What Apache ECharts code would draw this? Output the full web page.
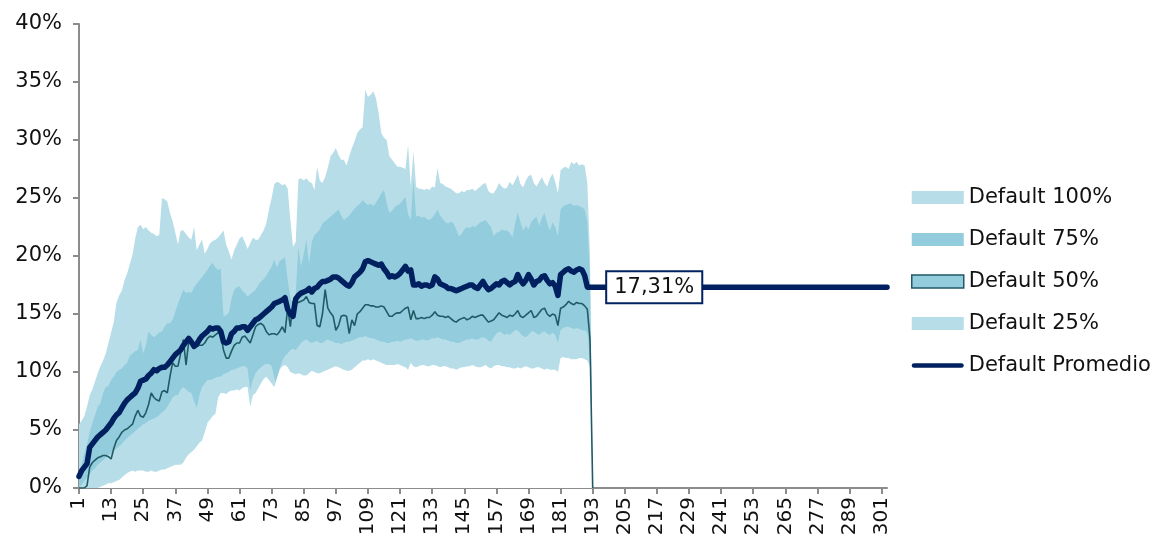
<!DOCTYPE html>
<html>
<head>
<meta charset="utf-8">
<script src="https://cdn.jsdelivr.net/npm/echarts@6/dist/echarts.min.js"></script>
<style>
  html, body { margin: 0; padding: 0; background: #fff; }
  #chart { width: 1153px; height: 544px; }
</style>
</head>
<body>
<div id="chart"></div>
<script>
// months 1..303 on the x axis, percentile bands (% values)
const categoryCount = 303;
const categories = Array.from({ length: categoryCount }, (_, i) => String(i + 1));

const default100 = [
  5.5, 5.8, 6.2, 7.0, 8.0, 8.5, 9.2, 9.9, 10.5, 11.0, 11.6, 12.5,
  13.4, 14.3, 16.0, 16.6, 17.0, 17.9, 18.5, 19.3, 20.1, 21.5, 22.5, 22.7,
  22.3, 22.5, 22.2, 22.0, 21.9, 21.7, 21.8, 25.0, 24.9, 24.7, 23.7, 23.0,
  22.0, 21.0, 22.2, 22.2, 21.9, 21.6, 21.4, 22.5, 20.5, 21.0, 21.4, 20.2,
  20.6, 21.1, 21.3, 21.4, 21.6, 21.9, 22.2, 21.0, 20.4, 19.7, 20.5, 21.0,
  21.5, 21.7, 21.2, 20.6, 21.1, 21.6, 21.4, 21.4, 21.8, 22.2, 22.8, 24.0,
  25.0, 26.2, 26.4, 26.3, 26.1, 26.2, 25.8, 23.1, 20.8, 21.2, 26.6, 26.7,
  26.5, 26.7, 26.4, 26.3, 25.7, 27.7, 26.5, 26.3, 26.8, 27.6, 28.6, 28.9,
  29.3, 28.7, 28.3, 28.3, 27.8, 28.6, 29.3, 29.9, 30.6, 30.9, 31.1, 34.3,
  33.7, 33.9, 34.2, 33.6, 32.3, 30.6, 30.2, 30.0, 28.6, 28.3, 28.0, 27.7,
  27.7, 27.6, 27.5, 29.6, 26.0, 29.0, 26.0, 25.8, 25.8, 25.7, 25.8, 25.7,
  26.0, 25.9, 27.6, 26.3, 26.2, 26.0, 25.9, 25.8, 25.6, 25.4, 25.4, 25.6,
  25.5, 25.7, 25.7, 25.8, 25.6, 25.8, 26.0, 26.2, 26.3, 25.6, 25.4, 25.4,
  25.8, 26.3, 26.0, 25.8, 25.9, 26.4, 26.1, 26.5, 27.0, 26.2, 25.9, 26.5,
  26.9, 27.0, 26.3, 26.0, 26.4, 26.8, 26.3, 26.0, 26.7, 27.1, 26.4, 25.4,
  27.4, 27.6, 27.7, 27.5, 28.1, 27.9, 28.1, 27.8, 27.9, 27.8, 26.3, 20.0
];

const default75 = [
  0.8, 2.0, 3.0, 3.8, 4.8, 5.6, 6.3, 7.0, 7.3, 8.2, 8.7, 8.8,
  9.3, 9.6, 10.0, 10.2, 10.3, 10.6, 10.8, 11.4, 11.6, 11.8, 11.9, 12.8,
  11.6, 12.3, 13.5, 13.2, 13.0, 13.2, 13.4, 13.5, 13.9, 14.2, 14.2, 14.5,
  15.2, 15.9, 16.5, 17.1, 16.8, 16.9, 16.8, 17.3, 17.6, 17.9, 18.2, 18.5,
  18.8, 19.2, 19.4, 19.0, 18.8, 18.9, 14.8, 14.9, 15.1, 16.3, 17.1, 17.3,
  17.4, 17.0, 16.8, 16.5, 16.7, 16.9, 17.1, 17.5, 17.8, 18.0, 18.3, 18.7,
  19.1, 19.7, 19.0, 19.6, 19.7, 19.9, 17.9, 16.5, 15.6, 16.8, 20.8, 19.1,
  20.2, 21.4, 19.3, 21.2, 21.8, 22.0, 22.3, 22.8, 23.0, 23.2, 23.4, 23.6,
  23.8, 24.0, 23.5, 23.1, 23.3, 23.5, 23.8, 24.1, 24.3, 24.5, 24.8, 24.6,
  24.4, 24.5, 24.3, 24.6, 25.0, 25.4, 25.7, 24.6, 23.7, 23.9, 24.2, 24.4,
  24.5, 24.8, 25.1, 23.6, 23.1, 26.6, 23.4, 23.5, 23.3, 23.4, 23.2, 23.1,
  23.3, 23.6, 24.0, 23.5, 23.2, 22.9, 22.8, 23.0, 22.8, 22.3, 21.7, 21.9,
  22.3, 22.5, 22.4, 22.6, 22.5, 22.7, 22.9, 23.0, 23.1, 22.8, 22.5, 21.7,
  22.0, 22.1, 22.3, 22.2, 22.2, 22.0, 21.6, 22.8, 23.8, 22.9, 22.2, 22.6,
  22.3, 22.9, 23.2, 23.4, 22.6, 23.3, 23.7, 22.8, 22.2, 22.9, 22.5, 21.7,
  24.0, 24.3, 24.4, 24.5, 24.5, 24.3, 24.4, 24.3, 24.2, 24.0, 23.0, 18.0
];

const default50 = [
  0.0, 0.0, 0.0, 0.2, 1.8, 2.2, 2.4, 2.6, 2.7, 2.8, 2.8, 2.7,
  2.5, 3.4, 4.1, 4.4, 4.8, 5.0, 5.1, 5.3, 5.5, 6.2, 6.7, 6.2,
  6.1, 6.5, 7.2, 8.2, 7.8, 7.6, 7.5, 8.3, 8.4, 8.2, 9.6, 10.8,
  10.5, 10.5, 11.6, 12.8, 10.6, 12.6, 12.4, 12.3, 12.2, 12.3, 12.3, 12.5,
  12.9, 13.1, 13.0, 13.2, 13.4, 13.2, 11.9, 11.2, 11.2, 11.8, 12.3, 12.5,
  12.5, 13.0, 13.1, 12.8, 12.5, 13.2, 13.9, 14.1, 14.2, 14.0, 13.5, 13.2,
  13.3, 13.3, 13.2, 13.5, 13.9, 13.4, 15.5, 13.9, 16.1, 16.0, 16.0, 16.1,
  16.2, 16.5, 16.0, 15.9, 15.9, 14.0, 13.9, 15.0, 17.1, 15.5, 15.1, 14.8,
  13.6, 14.0, 14.8, 14.9, 14.8, 13.3, 14.5, 14.0, 15.0, 15.2, 15.5, 15.8,
  15.8, 15.7, 15.7, 15.6, 15.6, 15.7, 15.6, 15.2, 14.8, 14.8, 15.0, 15.1,
  15.1, 15.3, 15.5, 15.6, 14.5, 15.3, 14.6, 14.6, 14.7, 14.6, 14.7, 14.7,
  14.9, 15.2, 14.9, 14.8, 14.8, 14.7, 14.8, 14.6, 14.4, 14.3, 14.5, 14.6,
  14.7, 14.5, 14.6, 14.8, 14.7, 14.8, 14.9, 14.9, 14.6, 14.3, 14.4, 14.5,
  14.8, 15.1, 14.9, 14.8, 14.7, 14.9, 14.8, 15.0, 15.3, 14.8, 14.7, 14.9,
  15.1, 15.3, 14.7, 14.8, 15.1, 15.4, 15.5, 15.0, 14.8, 15.0, 14.9, 14.0,
  15.5, 15.6, 15.8, 16.1, 15.9, 15.8, 16.0, 15.9, 15.9, 15.7, 15.4, 12.8
];

const default25 = [
  0.0, 0.3, 0.6, 0.9, 1.2, 1.5, 1.7, 2.0, 2.2, 2.4, 2.6, 2.8,
  3.0, 3.2, 3.4, 3.6, 3.8, 4.1, 4.3, 4.5, 4.7, 4.9, 5.1, 5.3,
  5.5, 5.6, 5.8, 5.9, 6.0, 6.1, 6.3, 6.5, 6.7, 7.0, 7.4, 7.8,
  8.0, 8.0, 8.5, 8.7, 8.5, 8.3, 8.2, 7.5, 6.9, 8.0, 8.7, 9.0,
  9.3, 9.3, 9.4, 9.5, 9.6, 9.6, 9.8, 9.9, 10.0, 10.2, 10.2, 10.3,
  10.4, 10.5, 10.5, 10.3, 8.4, 9.3, 9.9, 10.2, 10.4, 10.6, 10.7, 10.7,
  10.5, 9.5, 8.7, 10.3, 11.0, 11.4, 11.6, 11.9, 12.0, 11.9, 12.2, 12.5,
  12.7, 12.8, 12.6, 12.5, 12.6, 12.7, 12.5, 12.5, 12.7, 12.8, 12.7, 12.6,
  12.5, 12.5, 12.4, 12.5, 12.6, 12.6, 12.7, 12.8, 12.9, 13.0, 13.0, 13.1,
  13.0, 12.9, 12.9, 12.8, 12.7, 12.6, 12.6, 12.5, 12.5, 12.6, 12.6, 12.7,
  12.6, 12.7, 12.8, 12.8, 12.9, 12.8, 12.7, 12.7, 12.8, 12.8, 12.7, 12.8,
  12.9, 12.9, 13.0, 12.9, 12.8, 12.8, 12.7, 12.6, 12.6, 12.5, 12.5, 12.6,
  12.7, 12.8, 12.8, 12.9, 12.8, 12.8, 12.9, 13.0, 12.9, 12.7, 12.6, 13.0,
  13.3, 13.5, 13.4, 13.2, 13.3, 13.2, 13.4, 13.6, 13.6, 13.3, 13.1, 13.0,
  13.2, 13.5, 13.5, 13.3, 13.2, 13.4, 13.5, 13.3, 13.2, 13.4, 13.2, 12.5,
  13.6, 13.8, 13.9, 13.9, 13.8, 13.7, 13.8, 13.7, 13.6, 13.6, 13.4, 11.0
];

// lowest default of the month (white band, not in the legend)
const default0 = [
  0, 0, 0, 0, 0, 0, 0, 0, 0.1, 0.2, 0.3, 0.4,
  0.4, 0.5, 0.6, 0.7, 0.9, 1.1, 1.3, 1.4, 1.5, 1.4, 1.5, 1.5,
  1.5, 1.4, 1.4, 1.5, 1.4, 1.4, 1.5, 1.6, 1.6, 1.7, 1.8, 1.9,
  2.0, 2.0, 2.0, 2.2, 2.6, 2.9, 3.1, 3.3, 3.6, 3.9, 4.1, 4.8,
  5.6, 5.9, 6.2, 6.4, 7.8, 8.2, 8.2, 8.1, 8.3, 8.4, 8.4, 8.5,
  8.4, 8.6, 8.7, 8.7, 7.0, 8.0, 8.2, 8.6, 9.0, 9.4, 9.6, 9.3,
  9.0, 8.7, 9.5, 10.2, 10.5, 10.6, 10.4, 10.0, 9.9, 9.8, 9.9, 9.8,
  9.7, 9.7, 9.9, 10.1, 10.0, 9.9, 9.9, 10.0, 10.1, 10.2, 10.3, 10.4,
  10.5, 10.4, 10.3, 10.2, 10.1, 10.1, 10.2, 10.4, 10.6, 10.8, 11.0, 11.0,
  11.1, 11.0, 11.1, 11.0, 10.9, 10.8, 10.7, 10.6, 10.6, 10.6, 10.6, 10.7,
  10.6, 10.5, 10.4, 10.2, 10.8, 10.5, 10.4, 10.5, 10.6, 10.6, 10.5, 10.5,
  10.6, 10.6, 10.5, 10.4, 10.5, 10.5, 10.4, 10.3, 10.3, 10.2, 10.3, 10.4,
  10.4, 10.5, 10.5, 10.6, 10.5, 10.4, 10.4, 10.5, 10.6, 10.4, 10.3, 10.5,
  10.6, 10.6, 10.5, 10.5, 10.4, 10.4, 10.3, 10.3, 10.4, 10.3, 10.4, 10.5,
  10.4, 10.3, 10.3, 10.4, 10.4, 10.3, 10.2, 10.3, 10.2, 10.2, 10.2, 10.0,
  11.2, 11.3, 11.2, 11.2, 11.1, 11.1, 11.1, 11.2, 11.2, 11.1, 11.0, 10.5
];

const defaultPromedio = [
  1.0, 1.5, 1.8, 2.1, 3.5, 3.8, 4.1, 4.4, 4.6, 4.8, 5.0, 5.3,
  5.6, 6.0, 6.3, 6.5, 6.9, 7.3, 7.6, 7.8, 8.0, 8.2, 8.6, 9.2,
  9.3, 9.4, 9.7, 9.9, 10.2, 10.1, 10.3, 10.4, 10.4, 10.6, 10.9, 11.2,
  11.5, 11.7, 11.9, 12.3, 12.6, 12.9, 12.6, 12.2, 12.4, 12.8, 13.1, 13.3,
  13.5, 13.8, 13.7, 13.8, 13.8, 13.5, 12.6, 12.5, 12.6, 13.3, 13.5, 13.8,
  13.8, 13.9, 13.9, 13.6, 13.9, 14.2, 14.5, 14.6, 14.8, 15.0, 15.2, 15.4,
  15.6, 15.9, 16.0, 16.1, 16.2, 16.4, 15.4, 15.0, 14.8, 16.3, 16.6, 16.8,
  16.9, 17.0, 17.2, 16.9, 17.2, 17.3, 17.6, 17.8, 17.8, 17.9, 18.0, 18.2,
  18.2, 18.1, 17.9, 17.7, 17.5, 17.4, 17.7, 18.2, 18.4, 18.6, 18.9, 19.5,
  19.6, 19.5, 19.4, 19.3, 19.2, 19.3, 18.9, 18.6, 18.2, 18.3, 18.2, 18.3,
  18.5, 18.8, 19.1, 18.7, 18.8, 17.5, 17.5, 17.6, 17.4, 17.5, 17.5, 17.4,
  17.5, 18.2, 18.0, 17.6, 17.5, 17.4, 17.2, 17.2, 17.1, 17.0, 17.1, 17.2,
  17.3, 17.4, 17.5, 17.5, 17.3, 17.2, 17.5, 17.8, 17.4, 17.1, 17.2, 17.4,
  17.6, 17.5, 17.8, 17.9, 17.7, 17.5, 17.7, 17.8, 18.4, 17.9, 17.6, 17.9,
  18.4, 18.0, 17.5, 17.8, 17.9, 18.2, 18.3, 17.9, 17.6, 17.7, 17.4, 16.6,
  18.4, 18.6, 18.8, 18.9, 18.7, 18.6, 18.8, 18.9, 18.8, 18.3
];
// overall average, drawn flat from month 191 to the end
const promedioTotal = 17.31;
const promedioLabelIndex = 215;

const yTicks = { min: 0, max: 40, interval: 5 };

const LIGHT = "#B7DEE8";
const MEDIUM = "#93CDDD";
const TEAL = "#215A66";
const NAVY = "#002060";
const FONT = "DejaVu Sans";

// bands fall to zero on the month after the last observation, then stop
function band(values) {
  const out = values.slice();
  out.push(0);
  while (out.length < categoryCount) out.push(null);
  return out;
}

function promedioData() {
  const out = defaultPromedio.slice();
  while (out.length < categoryCount) out.push(promedioTotal);
  return out;
}

function areaSeries(name, values, fill, line) {
  return {
    name,
    type: "line",
    data: band(values),
    symbol: "none",
    smooth: false,
    silent: true,
    lineStyle: line ? { color: line, width: 1.6 } : { width: 0, color: fill },
    itemStyle: { color: fill },
    areaStyle: { color: fill, opacity: 1 },
    animation: false,
  };
}

const chart = echarts.init(document.getElementById("chart"), null, { renderer: "canvas" });

chart.setOption({
  animation: false,
  backgroundColor: "#fff",
  textStyle: { fontFamily: FONT },
  grid: { left: 79, right: 266, top: 24, bottom: 56 },
  legend: {
    orient: "vertical",
    left: 906,
    top: 182,
    itemWidth: 52,
    itemHeight: 13,
    itemGap: 21,
    symbolKeepAspect: true,
    textStyle: { fontFamily: FONT, fontSize: 21, color: "#111" },
    data: [
      { name: "Default 100%", icon: "rect", itemStyle: { color: LIGHT, borderWidth: 0 } },
      { name: "Default 75%", icon: "rect", itemStyle: { color: MEDIUM, borderWidth: 0 } },
      { name: "Default 50%", icon: "rect", itemStyle: { color: MEDIUM, borderColor: TEAL, borderWidth: 1.5 } },
      { name: "Default 25%", icon: "rect", itemStyle: { color: LIGHT, borderWidth: 0 } },
      {
        name: "Default Promedio",
        icon: "path://M2.5,0 L53.5,0 A2.5,2.5 0 0 1 53.5,5 L2.5,5 A2.5,2.5 0 0 1 2.5,0 Z",
        itemStyle: { color: NAVY, borderWidth: 0 },
      },
    ],
  },
  xAxis: {
    type: "category",
    data: categories,
    boundaryGap: false,
    axisLine: { lineStyle: { color: "#8c8c8c", width: 2 } },
    axisTick: { interval: 11, length: 6, lineStyle: { color: "#8c8c8c", width: 2 } },
    axisLabel: {
      interval: 11,
      rotate: 90,
      margin: 9,
      color: "#111",
      fontFamily: FONT,
      fontSize: 20,
    },
    splitLine: { show: false },
  },
  yAxis: {
    type: "value",
    min: yTicks.min,
    max: yTicks.max,
    interval: yTicks.interval,
    axisLine: { show: true, lineStyle: { color: "#8c8c8c", width: 2 } },
    axisTick: { show: true, length: 6, lineStyle: { color: "#8c8c8c", width: 2 } },
    axisLabel: {
      formatter: "{value}%",
      margin: 17,
      color: "#111",
      fontFamily: FONT,
      fontSize: 21,
    },
    splitLine: { show: false },
  },
  series: [
    areaSeries("Default 100%", default100, LIGHT),
    areaSeries("Default 75%", default75, MEDIUM),
    areaSeries("Default 50%", default50, MEDIUM, TEAL),
    areaSeries("Default 25%", default25, LIGHT),
    areaSeries("Mínimo", default0, "#ffffff"),
    {
      name: "Default Promedio",
      type: "line",
      data: promedioData(),
      symbol: "none",
      showSymbol: false,
      lineStyle: { color: NAVY, width: 5.5, cap: "round", join: "round" },
      itemStyle: { color: NAVY },
      z: 5,
      animation: false,
      markPoint: {
        symbol: "rect",
        symbolSize: 1,
        z: 30,
        itemStyle: { color: "rgba(0,0,0,0)" },
        silent: true,
        animation: false,
        data: [{ coord: [categories[promedioLabelIndex], promedioTotal], value: promedioTotal }],
        label: {
          show: true,
          position: "inside",
          formatter: () => promedioTotal.toFixed(2).replace(".", ",") + "%",
          color: "#111",
          fontFamily: FONT,
          fontSize: 21,
          lineHeight: 24,
          backgroundColor: "#fff",
          borderColor: NAVY,
          borderWidth: 2,
          padding: [3, 7, 3, 7],
        },
      },
    },
  ],
});
</script>
</body>
</html>
